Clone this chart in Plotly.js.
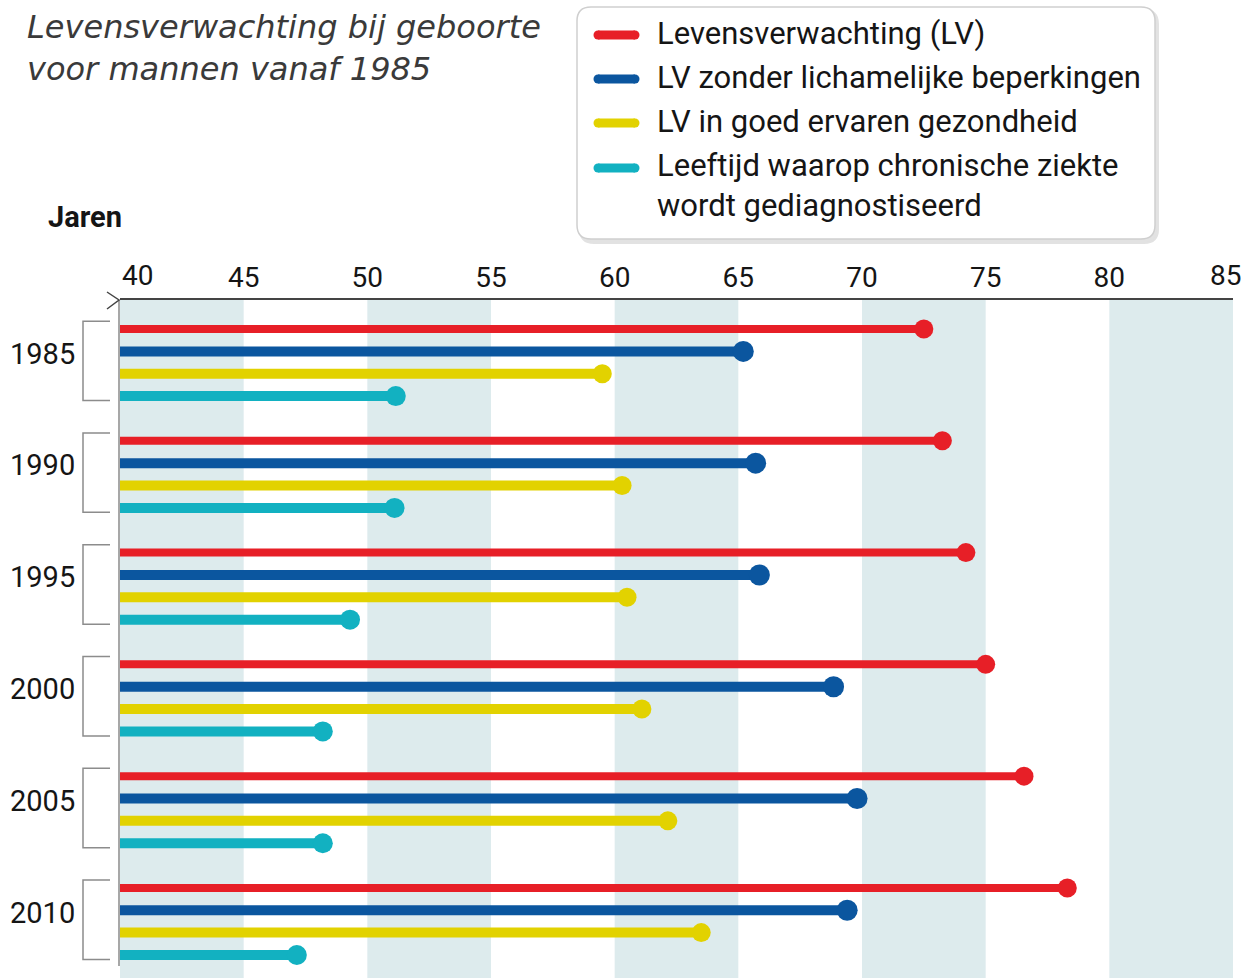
<!DOCTYPE html>
<html>
<head>
<meta charset="utf-8">
<script src="https://cdn.plot.ly/plotly-3.0.1.min.js"></script>
<style>
html,body{margin:0;padding:0;background:#fff;}
#chart{width:1245px;height:978px;}
</style>
</head>
<body>
<div id="chart"></div>
<script>
// ---- data ----
const years = ['1985', '1990', '1995', '2000', '2005', '2010'];
const seriesNames = [
  'Levensverwachting (LV)',
  'LV zonder lichamelijke beperkingen',
  'LV in goed ervaren gezondheid',
  'Leeftijd waarop chronische ziekte<br>wordt gediagnostiseerd'
];
const lv          = [72.5, 73.25, 74.2, 75.0, 76.55, 78.3];
const lvZonder    = [65.2, 65.7, 65.85, 68.85, 69.8, 69.4];
const lvGoed      = [59.5, 60.3, 60.5, 61.1, 62.15, 63.5];
const chronisch   = [51.15, 51.1, 49.3, 48.2, 48.2, 47.15];
const xTicks      = [40, 45, 50, 55, 60, 65, 70, 75, 80, 85];
const bands       = [[40, 45], [50, 55], [60, 65], [70, 75], [80, 85]];
const startAge    = 40;

// ---- styles ----
const colors = ['#e71f27', '#0b569f', '#e2d200', '#12b1c1'];
const lineWidths = [8, 10, 10, 10];
const markerSizes = [19, 21, 19, 20];
const allSeries = [lv, lvZonder, lvGoed, chronisch];

const W = 1245, H = 978;
const L = 120, R = 12, T = 300, B = 0;
const pw = W - L - R, ph = H - T - B;
const px = x => (x - L) / pw;
const py = y => 1 - (y - T) / ph;

const slotsPerGroup = 5;
const yPos = (g, s) => g * slotsPerGroup + s;

const traces = [];
allSeries.forEach((vals, s) => {
  const lx = [], ly = [], mx = [], my = [];
  vals.forEach((v, g) => {
    lx.push(startAge, v, null);
    ly.push(yPos(g, s), yPos(g, s), null);
    mx.push(v); my.push(yPos(g, s));
  });
  traces.push({x: lx, y: ly, mode: 'lines', type: 'scatter',
    line: {color: colors[s], width: lineWidths[s]}, hoverinfo: 'skip', showlegend: false, cliponaxis: false});
  traces.push({x: mx, y: my, mode: 'markers', type: 'scatter',
    marker: {color: colors[s], size: markerSizes[s]}, hoverinfo: 'skip', showlegend: false, cliponaxis: false});
});

const shapes = [];
bands.forEach(b => shapes.push({type: 'rect', xref: 'x', yref: 'paper', x0: b[0], x1: b[1], y0: 0, y1: 1,
  fillcolor: '#ddebed', line: {width: 0}, layer: 'below'}));

// left vertical line
shapes.push({type: 'line', xref: 'paper', yref: 'paper', x0: px(119), x1: px(119), y0: py(300), y1: py(966),
  line: {color: '#8a8a8a', width: 1.5}});
// arrow chevron at axis start
shapes.push({type: 'path', xref: 'paper', yref: 'paper',
  path: `M ${px(107)} ${py(292)} L ${px(119)} ${py(300)} L ${px(107)} ${py(309)}`,
  line: {color: '#444', width: 1.5}});

// brackets
years.forEach((yr, g) => {
  const y0 = yPos(g, 0) - 0.35, y1 = yPos(g, 3) + 0.2;
  shapes.push({type: 'path', xref: 'paper', yref: 'y',
    path: `M ${px(110)} ${y0} L ${px(83)} ${y0} L ${px(83)} ${y1} L ${px(110)} ${y1}`,
    line: {color: '#8c8c8c', width: 1.5}});
});

// legend box (shadow + box)
function roundRect(x0, y0, x1, y1, r) {
  return `M ${px(x0 + r)} ${py(y0)} L ${px(x1 - r)} ${py(y0)} Q ${px(x1)} ${py(y0)} ${px(x1)} ${py(y0 + r)} ` +
    `L ${px(x1)} ${py(y1 - r)} Q ${px(x1)} ${py(y1)} ${px(x1 - r)} ${py(y1)} L ${px(x0 + r)} ${py(y1)} ` +
    `Q ${px(x0)} ${py(y1)} ${px(x0)} ${py(y1 - r)} L ${px(x0)} ${py(y0 + r)} Q ${px(x0)} ${py(y0)} ${px(x0 + r)} ${py(y0)} Z`;
}
shapes.push({type: 'path', xref: 'paper', yref: 'paper', path: roundRect(580, 10, 1158, 243, 14),
  fillcolor: '#e2e2e2', line: {color: '#e2e2e2', width: 2}});
shapes.push({type: 'path', xref: 'paper', yref: 'paper', path: roundRect(577, 7, 1155, 239, 14),
  fillcolor: '#ffffff', line: {color: '#cfcfcf', width: 1.5}});

const legendY = [35, 79, 123, 168];
const legendTextY = [34, 78, 122, 186];
legendY.forEach((y, i) => {
  shapes.push({type: 'line', xref: 'paper', yref: 'paper', x0: px(598), x1: px(635), y0: py(y), y1: py(y),
    line: {color: colors[i], width: 9}});
  // rounded caps
  [598, 635].forEach(cx => shapes.push({type: 'circle', xref: 'paper', yref: 'paper',
    x0: px(cx - 4.5), x1: px(cx + 4.5), y0: py(y - 4.5), y1: py(y + 4.5),
    fillcolor: colors[i], line: {width: 0}}));
});

const sans = 'Roboto, "Liberation Sans", sans-serif';
const annotations = [];
seriesNames.forEach((n, i) => annotations.push({
  xref: 'paper', yref: 'paper', x: px(655), y: py(legendTextY[i]), xanchor: 'left', yanchor: 'middle',
  text: n, showarrow: false, align: 'left',
  font: {family: sans, size: 31, color: '#151515'}
}));

years.forEach((yr, g) => annotations.push({
  xref: 'paper', yref: 'y', x: px(77), y: yPos(g, 1.1), xanchor: 'right', yanchor: 'middle',
  text: yr, showarrow: false, font: {family: sans, size: 29, color: '#151515'}
}));

// end tick labels (shifted inward, as in the original)
const tickFont = {family: sans, size: 28, color: '#151515'};
annotations.push({xref: 'x', yref: 'paper', x: xTicks[0], y: py(276), xanchor: 'center', yanchor: 'middle',
  xshift: 17, text: String(xTicks[0]), showarrow: false, font: tickFont});
annotations.push({xref: 'x', yref: 'paper', x: xTicks[xTicks.length - 1], y: py(276), xanchor: 'center', yanchor: 'middle',
  xshift: -8, text: String(xTicks[xTicks.length - 1]), showarrow: false, font: tickFont});

annotations.push({xref: 'paper', yref: 'paper', x: px(46), y: py(217), xanchor: 'left', yanchor: 'middle',
  text: '<b>Jaren</b>', showarrow: false, font: {family: sans, size: 29, color: '#151515'}});

annotations.push({xref: 'paper', yref: 'paper', x: px(25), y: py(6), xanchor: 'left', yanchor: 'top',
  text: '<i>Levensverwachting bij geboorte<br>voor mannen vanaf 1985</i>', showarrow: false, align: 'left',
  font: {family: '"DejaVu Sans", sans-serif', size: 32, color: '#3a3a3a', weight: 300}});

const layout = {
  width: W, height: H,
  margin: {l: L, r: R, t: T, b: B, pad: 0},
  paper_bgcolor: '#ffffff', plot_bgcolor: '#ffffff',
  showlegend: false,
  xaxis: {
    range: [40, 85], side: 'top', tickvals: xTicks.slice(1, -1), ticktext: xTicks.slice(1, -1).map(String),
    showgrid: false, zeroline: false, showline: true, linecolor: '#444', linewidth: 2,
    ticks: '', ticklabelstandoff: 0,
    tickfont: tickFont, fixedrange: true
  },
  yaxis: {
    range: [29.03, -1.3], showgrid: false, zeroline: false, showline: false,
    showticklabels: false, ticks: '', fixedrange: true
  },
  shapes: shapes,
  annotations: annotations
};

Plotly.newPlot('chart', traces, layout, {displayModeBar: false, staticPlot: true});
</script>
</body>
</html>
